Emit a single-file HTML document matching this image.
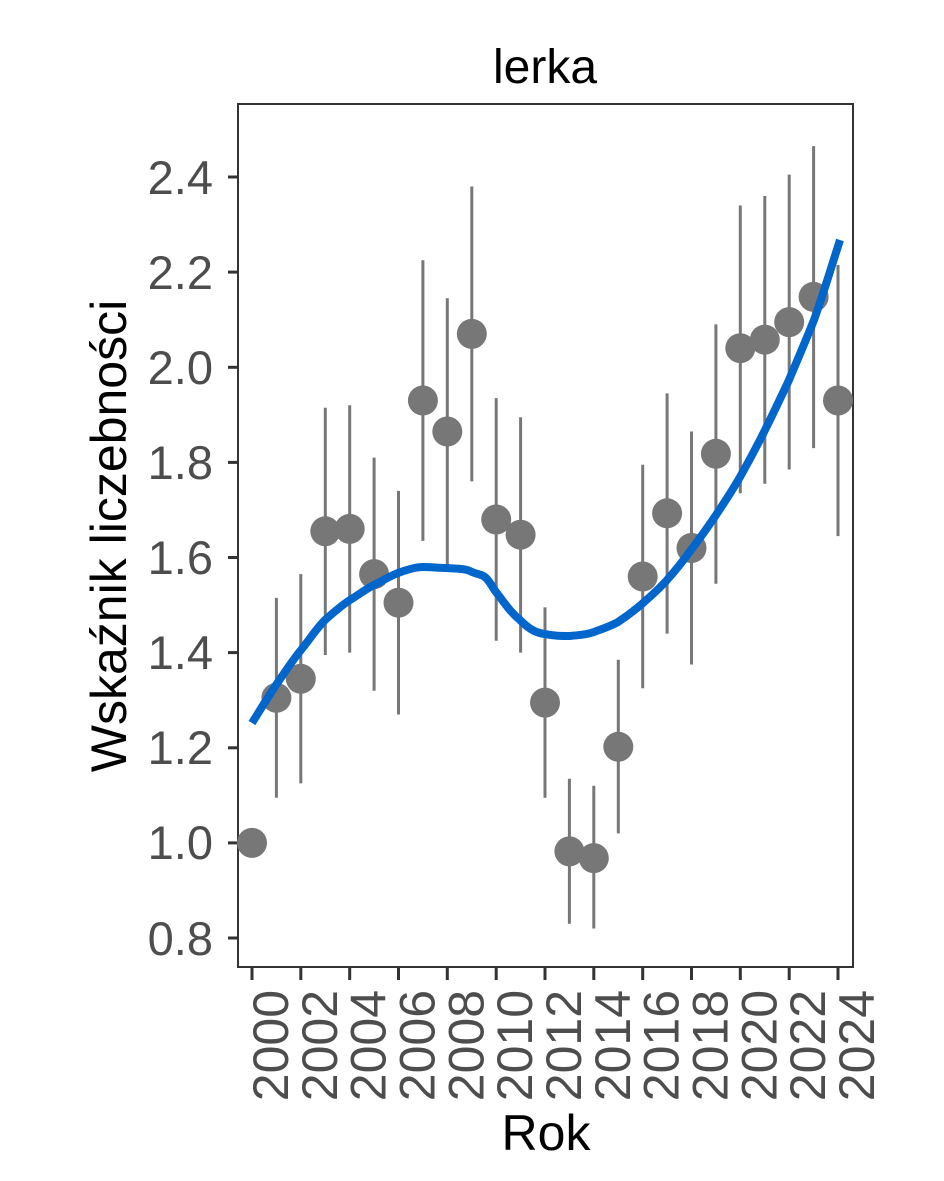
<!DOCTYPE html>
<html><head><meta charset="utf-8"><style>body{margin:0;background:#fff}svg{display:block}text{font-family:"Liberation Sans",Arial,sans-serif}</style></head><body>
<svg width="944" height="1181" xmlns="http://www.w3.org/2000/svg">
<rect width="944" height="1181" fill="#fff"/>
<text x="545" y="83" font-size="48" text-anchor="middle" fill="#000">lerka</text>
<rect x="238" y="104" width="615" height="863" fill="none" stroke="#333" stroke-width="2"/>
<g stroke="#333" stroke-width="3">
<line x1="228" y1="177" x2="238" y2="177"/><line x1="228" y1="272.1" x2="238" y2="272.1"/><line x1="228" y1="367.3" x2="238" y2="367.3"/><line x1="228" y1="462.4" x2="238" y2="462.4"/><line x1="228" y1="557.5" x2="238" y2="557.5"/><line x1="228" y1="652.6" x2="238" y2="652.6"/><line x1="228" y1="747.8" x2="238" y2="747.8"/><line x1="228" y1="842.9" x2="238" y2="842.9"/><line x1="228" y1="938" x2="238" y2="938"/>
<line x1="252" y1="967" x2="252" y2="980"/><line x1="300.8" y1="967" x2="300.8" y2="980"/><line x1="349.7" y1="967" x2="349.7" y2="980"/><line x1="398.5" y1="967" x2="398.5" y2="980"/><line x1="447.3" y1="967" x2="447.3" y2="980"/><line x1="496.2" y1="967" x2="496.2" y2="980"/><line x1="545" y1="967" x2="545" y2="980"/><line x1="593.8" y1="967" x2="593.8" y2="980"/><line x1="642.7" y1="967" x2="642.7" y2="980"/><line x1="691.5" y1="967" x2="691.5" y2="980"/><line x1="740.3" y1="967" x2="740.3" y2="980"/><line x1="789.2" y1="967" x2="789.2" y2="980"/><line x1="838" y1="967" x2="838" y2="980"/>
</g>
<g font-size="47" fill="#4d4d4d" text-anchor="end">
<text x="213" y="194">2.4</text><text x="213" y="289">2.2</text><text x="213" y="384">2.0</text><text x="213" y="479">1.8</text><text x="213" y="574">1.6</text><text x="213" y="669">1.4</text><text x="213" y="764">1.2</text><text x="213" y="859">1.0</text><text x="213" y="955">0.8</text>
</g>
<g font-size="50" fill="#4d4d4d" text-anchor="end">
<text transform="translate(288,990) rotate(-90)">2000</text>
<text transform="translate(336.8,990) rotate(-90)">2002</text>
<text transform="translate(385.7,990) rotate(-90)">2004</text>
<text transform="translate(434.5,990) rotate(-90)">2006</text>
<text transform="translate(483.3,990) rotate(-90)">2008</text>
<text transform="translate(532.2,990) rotate(-90)">2010</text>
<text transform="translate(581,990) rotate(-90)">2012</text>
<text transform="translate(629.8,990) rotate(-90)">2014</text>
<text transform="translate(678.7,990) rotate(-90)">2016</text>
<text transform="translate(727.5,990) rotate(-90)">2018</text>
<text transform="translate(776.3,990) rotate(-90)">2020</text>
<text transform="translate(825.2,990) rotate(-90)">2022</text>
<text transform="translate(874,990) rotate(-90)">2024</text>
</g>
<text x="546" y="1150" font-size="50" text-anchor="middle" fill="#000">Rok</text>
<text transform="translate(126,536) rotate(-90)" font-size="50" text-anchor="middle" fill="#000">Wskaźnik liczebności</text>
<g stroke="#777" stroke-width="3">
<line x1="276.4" y1="797.7" x2="276.4" y2="597.9"/><line x1="300.8" y1="783.4" x2="300.8" y2="574.1"/><line x1="325.3" y1="655" x2="325.3" y2="407.7"/><line x1="349.7" y1="652.6" x2="349.7" y2="405.3"/><line x1="374.1" y1="690.7" x2="374.1" y2="457.6"/><line x1="398.5" y1="714.5" x2="398.5" y2="490.9"/><line x1="422.9" y1="540.9" x2="422.9" y2="260.2"/><line x1="447.3" y1="564.6" x2="447.3" y2="298.3"/><line x1="471.8" y1="481.4" x2="471.8" y2="186.5"/><line x1="496.2" y1="640.7" x2="496.2" y2="398.1"/><line x1="520.6" y1="652.6" x2="520.6" y2="417.2"/><line x1="545" y1="797.7" x2="545" y2="607.4"/><line x1="569.4" y1="923.7" x2="569.4" y2="778.7"/><line x1="593.8" y1="928.5" x2="593.8" y2="785.8"/><line x1="618.3" y1="833.4" x2="618.3" y2="659.8"/><line x1="642.7" y1="688.3" x2="642.7" y2="464.7"/><line x1="667.1" y1="633.6" x2="667.1" y2="393.4"/><line x1="691.5" y1="664.5" x2="691.5" y2="431.5"/><line x1="715.9" y1="583.7" x2="715.9" y2="324.4"/><line x1="740.3" y1="493.3" x2="740.3" y2="205.5"/><line x1="764.8" y1="483.8" x2="764.8" y2="196"/><line x1="789.2" y1="469.5" x2="789.2" y2="174.6"/><line x1="813.6" y1="448.1" x2="813.6" y2="146.1"/><line x1="838" y1="536.1" x2="838" y2="265"/>
</g>
<g fill="#777">
<circle cx="252" cy="842.9" r="15"/><circle cx="276.4" cy="697.8" r="15"/><circle cx="300.8" cy="678.8" r="15"/><circle cx="325.3" cy="531.3" r="15"/><circle cx="349.7" cy="528.9" r="15"/><circle cx="374.1" cy="574.1" r="15"/><circle cx="398.5" cy="602.7" r="15"/><circle cx="422.9" cy="400.5" r="15"/><circle cx="447.3" cy="431.5" r="15"/><circle cx="471.8" cy="333.9" r="15"/><circle cx="496.2" cy="519.5" r="15"/><circle cx="520.6" cy="534.7" r="15"/><circle cx="545" cy="702.6" r="15"/><circle cx="569.4" cy="851.4" r="15"/><circle cx="593.8" cy="858.1" r="15"/><circle cx="618.3" cy="746.8" r="15"/><circle cx="642.7" cy="576.5" r="15"/><circle cx="667.1" cy="513.3" r="15"/><circle cx="691.5" cy="548" r="15"/><circle cx="715.9" cy="453.8" r="15"/><circle cx="740.3" cy="348.2" r="15"/><circle cx="764.8" cy="339.7" r="15"/><circle cx="789.2" cy="322.1" r="15"/><circle cx="813.6" cy="296.9" r="15"/><circle cx="838" cy="400.5" r="15"/>
</g>
<path d="M252,723 C262,707 268,697 276,685 C285,672 292,661 301,650 C310,639 316,629 325,620 C334,612 342,605 350,600 C358,595 366,589 374,585 C382,581 390,576 398,573 C406,570 415,567 423,567 C431,567 439,568 447,568 C455,569 465,568 472,572 C479,575 482,574 486,578 C491,583 492,587 496,592 C504,602 510,612 520,620 C528,628 535,633 545,634 C554,636 561,636 570,636 C579,635 586,635 594,632 C602,629 611,626 618,622 C627,616 635,610 643,603 C651,596 659,589 667,580 C675,571 683,561 691,550 C700,538 708,527 716,515 C724,503 732,491 740,477 C749,461 757,446 765,430 C773,414 781,397 789,380 C797,361 806,340 814,320 C823,295 831,268 840,240" fill="none" stroke="#0066cc" stroke-width="8"/>
</svg>
</body></html>
